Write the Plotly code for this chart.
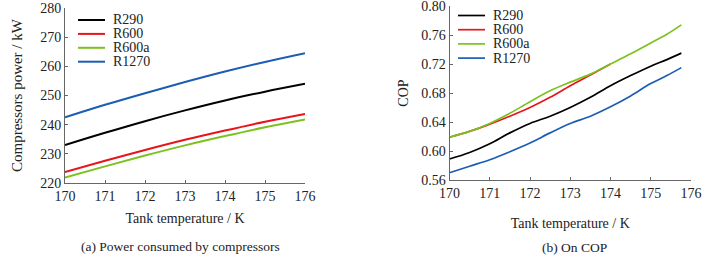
import plotly.graph_objects as go
from plotly.subplots import make_subplots

# ---- data ----
temp = [170, 171, 172, 173, 174, 175, 176]
power_r290 = [233.0, 237.2, 241.2, 244.9, 248.3, 251.3, 254.0]
power_r600 = [223.8, 227.6, 231.3, 234.8, 238.0, 241.0, 243.7]
power_r600a = [221.9, 225.7, 229.4, 232.9, 236.1, 239.1, 241.8]
power_r1270 = [242.5, 246.8, 250.8, 254.6, 258.2, 261.5, 264.5]

cop_temp = [170, 170.5, 171, 171.5, 172, 172.5, 173, 173.5, 174, 174.5, 175, 175.4, 175.76]
cop_r290 = [0.589, 0.598, 0.610, 0.625, 0.638, 0.648, 0.660, 0.674, 0.690, 0.704, 0.717, 0.726, 0.735]
cop_r1270 = [0.570, 0.579, 0.588, 0.599, 0.611, 0.625, 0.638, 0.648, 0.661, 0.676, 0.693, 0.704, 0.715]
cop_r600a = [0.619, 0.627, 0.638, 0.652, 0.668, 0.683, 0.695, 0.706, 0.720, 0.734, 0.749, 0.761, 0.774]
cop_temp_r600 = [170, 170.5, 171, 171.5, 172, 172.5, 173, 173.5, 174]
cop_r600 = [0.619, 0.627, 0.637, 0.648, 0.660, 0.674, 0.690, 0.705, 0.720]

names = ["R290", "R600", "R600a", "R1270"]
colors = ["#000000", "#e8141c", "#7cc21e", "#1c5db4"]

FONT = "Liberation Serif"
TXT = "#222222"
W, H = 704, 257

fig = make_subplots(rows=1, cols=2)

power = [power_r290, power_r600, power_r600a, power_r1270]
for n, c, p in zip(names, colors, power):
    fig.add_trace(go.Scatter(x=temp, y=p, mode="lines", name=n, showlegend=False,
                             line=dict(color=c, width=2, shape="spline")), row=1, col=1)

cops = [(cop_temp, cop_r290), (cop_temp_r600, cop_r600), (cop_temp, cop_r600a), (cop_temp, cop_r1270)]
for n, c, (xx, yy) in zip(names, colors, cops):
    fig.add_trace(go.Scatter(x=xx, y=yy, mode="lines", name=n, showlegend=False,
                             line=dict(color=c, width=1.7, shape="spline")), row=1, col=2)

axis_common = dict(showline=True, linecolor="#666666", linewidth=1, ticks="inside", ticklen=3,
                   tickcolor="#666666", showgrid=False, zeroline=False, automargin=False,
                   ticklabeloverflow="allow",
                   tickfont=dict(family=FONT, size=14, color=TXT),
                   title_font=dict(family=FONT, size=14, color=TXT))

fig.update_xaxes(**axis_common, range=[170, 176], dtick=1, tick0=170)
fig.update_xaxes(domain=[65 / W, 305 / W], row=1, col=1,
                 title=dict(text="Tank temperature / K", standoff=10))
fig.update_xaxes(domain=[449.5 / W, 691 / W], row=1, col=2,
                 title=dict(text="Tank temperature / K", standoff=18))
fig.update_yaxes(**axis_common)
fig.update_yaxes(domain=[1 - 183 / H, 1 - 8 / H], range=[220, 280], dtick=10, row=1, col=1,
                 title=dict(text="Compressors power / kW", standoff=13, font=dict(size=15)))
fig.update_yaxes(domain=[1 - 180 / H, 1 - 6 / H], range=[0.56, 0.80], dtick=0.04, tickformat=".2f",
                 row=1, col=2, title=dict(text="COP", standoff=9))

# legends (one per panel), drawn as line samples + labels
shapes = []
annotations = []
legend_specs = [(78, 105, 111, 20, 13.9, 2), (458, 485, 491, 15.5, 14.2, 1.7)]
for x0, x1, xt, y0, dy, lw in legend_specs:
    for i, (n, c) in enumerate(zip(names, colors)):
        yy = y0 + i * dy
        shapes.append(dict(type="line", xref="paper", yref="paper", x0=x0 / W, x1=x1 / W,
                           y0=1 - yy / H, y1=1 - yy / H, line=dict(color=c, width=lw)))
        annotations.append(dict(text=n, x=xt / W, y=1 - yy / H, xref="paper", yref="paper",
                                showarrow=False, xanchor="left", yanchor="middle",
                                font=dict(family=FONT, size=14, color=TXT)))

annotations += [
    dict(text="(a) Power consumed by compressors", x=180 / W, y=1 - 246 / H, xref="paper", yref="paper",
         showarrow=False, font=dict(family=FONT, size=13.5, color=TXT), xanchor="center", yanchor="middle"),
    dict(text="(b) On COP", x=574 / W, y=1 - 247 / H, xref="paper", yref="paper",
         showarrow=False, font=dict(family=FONT, size=13.5, color=TXT), xanchor="center", yanchor="middle"),
]

fig.update_layout(
    width=W, height=H,
    margin=dict(l=0, r=0, t=0, b=0, autoexpand=False),
    paper_bgcolor="white", plot_bgcolor="white",
    font=dict(family=FONT, size=14, color=TXT),
    showlegend=False,
    shapes=shapes,
    annotations=annotations,
)

fig.write_html("out.html", config={"displayModeBar": False},
               post_script="document.body.style.margin='0';document.body.style.overflow='hidden';")
